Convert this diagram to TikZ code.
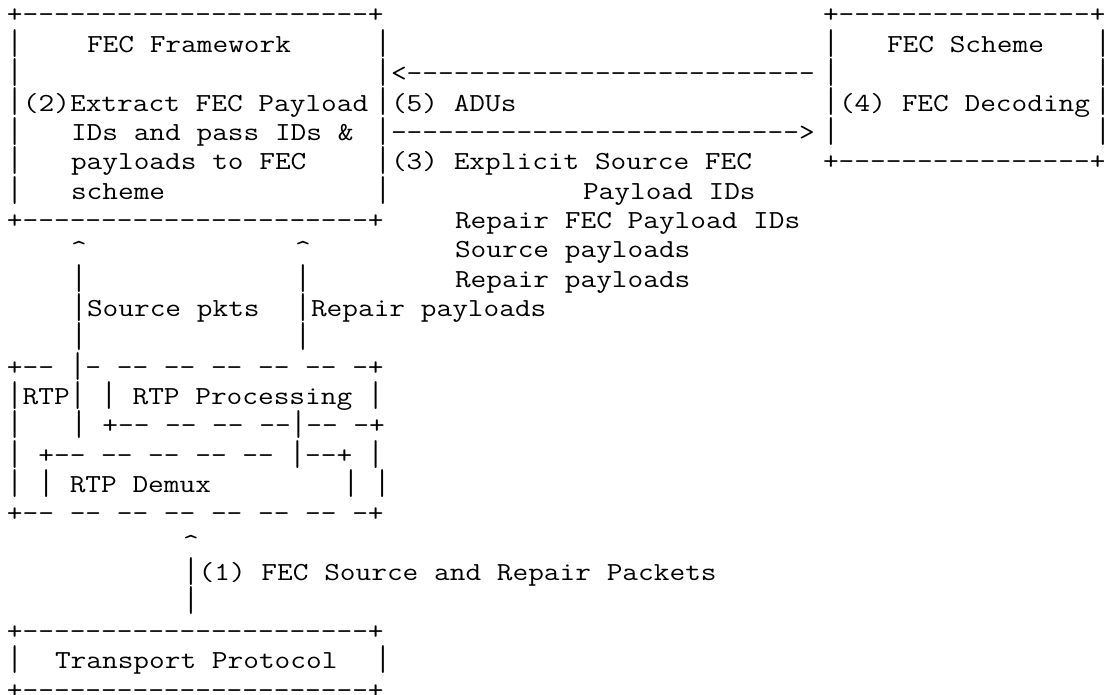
\documentclass[tikz,border=0pt]{standalone}
\usepackage{graphicx}
\newcommand\asciifont{\fontsize{26}{29.35}\selectfont\ttfamily\frenchspacing}
\newcommand*\dashrun[1]{\foreach\k in {1,...,#1}{-\kern0pt}}
\newcommand\vb{\raisebox{-0.075em}[0.8em][0.2em]{\scalebox{1}[1.38]{|}}}
\newcommand\edge[1]{\makebox[0.29em][l]{#1}}
\tikzset{ch/.style={anchor=base west, inner sep=0pt, outer sep=0pt, font=\asciifont, transform shape}}

\begin{document}
\begin{tikzpicture}[x=13.65pt, y=-29.35pt, xscale=1.1722]
  \path[use as bounding box] (-0.4375,-0.7836) rectangle (68.5625,22.896);
  % FEC Framework box
  \node[ch] (fw-top) at (0,0) {+\dashrun{22}+};
  \foreach \r in {1,...,6} {
    \node[ch] (fw-l\r) at (0,\r) {\vb};
    \node[ch] (fw-r\r) at (23,\r) {\vb};
  }
  \node[ch] (fw-bot) at (0,7) {+\dashrun{22}+};
  \node[ch] (fw-title) at (5,1) {FEC Framework};
  \node[ch] (step2a) at (1,3) {(2)Extract FEC Payload};
  \node[ch] (step2b) at (4,4) {IDs and pass IDs \&};
  \node[ch] (step2c) at (4,5) {payloads to FEC};
  \node[ch] (step2d) at (4,6) {scheme};
  % FEC Scheme box
  \node[ch] (fs-top) at (51,0) {+\dashrun{16}\edge{+}};
  \foreach \r in {1,...,4} {
    \node[ch] (fs-l\r) at (51,\r) {\vb};
    \node[ch] (fs-r\r) at (68,\r) {\edge{\vb}};
  }
  \node[ch] (fs-bot) at (51,5) {+\dashrun{16}\edge{+}};
  \node[ch] (fs-title) at (55,1) {FEC Scheme};
  \node[ch] (step4) at (52,3) {(4) FEC Decoding};
  % exchanges between framework and scheme
  \node[ch] (adu-arrow) at (24,2) {<\dashrun{26}};
  \node[ch] (step5) at (24,3) {(5) ADUs};
  \node[ch] (id-arrow) at (24,4) {\dashrun{26}>};
  \node[ch] (step3a) at (24,5) {(3) Explicit Source FEC};
  \node[ch] (step3b) at (36,6) {Payload IDs};
  \node[ch] (step3c) at (28,7) {Repair FEC Payload IDs};
  \node[ch] (step3d) at (28,8) {Source payloads};
  \node[ch] (step3e) at (28,9) {Repair payloads};
  % flows up from RTP
  \node[ch] (src-tip) at (4,8) {\textasciicircum};
  \node[ch] (rep-tip) at (18,8) {\textasciicircum};
  \foreach \r in {9,10,11} {
    \node[ch] (src-shaft\r) at (4,\r) {\vb};
    \node[ch] (rep-shaft\r) at (18,\r) {\vb};
  }
  \node[ch] (src-lbl) at (5,10) {Source pkts};
  \node[ch] (rep-lbl) at (19,10) {Repair payloads};
  % RTP processing / demux
  \node[ch] (rtp-top) at (0,12) {+\dashrun{2} \vb\dashrun{1} \dashrun{2} \dashrun{2} \dashrun{2} \dashrun{2} \dashrun{2} \dashrun{1}+};
  \node[ch] (rtp-mid) at (0,13) {\vb RTP\vb{} \vb{} RTP Processing \vb};
  \node[ch] (rtp-l14) at (0,14) {\vb};
  \node[ch] (proc-bot) at (4,14) {\vb{} +\dashrun{2} \dashrun{2} \dashrun{2} \dashrun{2}\vb\dashrun{2} \dashrun{1}+};
  \node[ch] (demux-top) at (0,15) {\vb{} +\dashrun{2} \dashrun{2} \dashrun{2} \dashrun{2} \dashrun{2} \vb\dashrun{2}+ \vb};
  \node[ch] (demux-mid) at (0,16) {\vb{} \vb{} RTP Demux};
  \node[ch] (demux-r) at (21,16) {\vb{} \vb};
  \node[ch] (rtp-bot) at (0,17) {+\dashrun{2} \dashrun{2} \dashrun{2} \dashrun{2} \dashrun{2} \dashrun{2} \dashrun{2} \dashrun{1}+};
  % packets from transport
  \node[ch] (pkt-tip) at (11,18) {\textasciicircum};
  \node[ch] (pkt-lbl) at (11,19) {\vb(1) FEC Source and Repair Packets};
  \node[ch] (pkt-shaft) at (11,20) {\vb};
  % Transport Protocol box
  \node[ch] (tp-top) at (0,21) {+\dashrun{22}+};
  \node[ch] (tp-l) at (0,22) {\vb};
  \node[ch] (tp-title) at (3,22) {Transport Protocol};
  \node[ch] (tp-r) at (23,22) {\vb};
  \node[ch] (tp-bot) at (0,23) {+\dashrun{22}+};
\end{tikzpicture}
\end{document}
